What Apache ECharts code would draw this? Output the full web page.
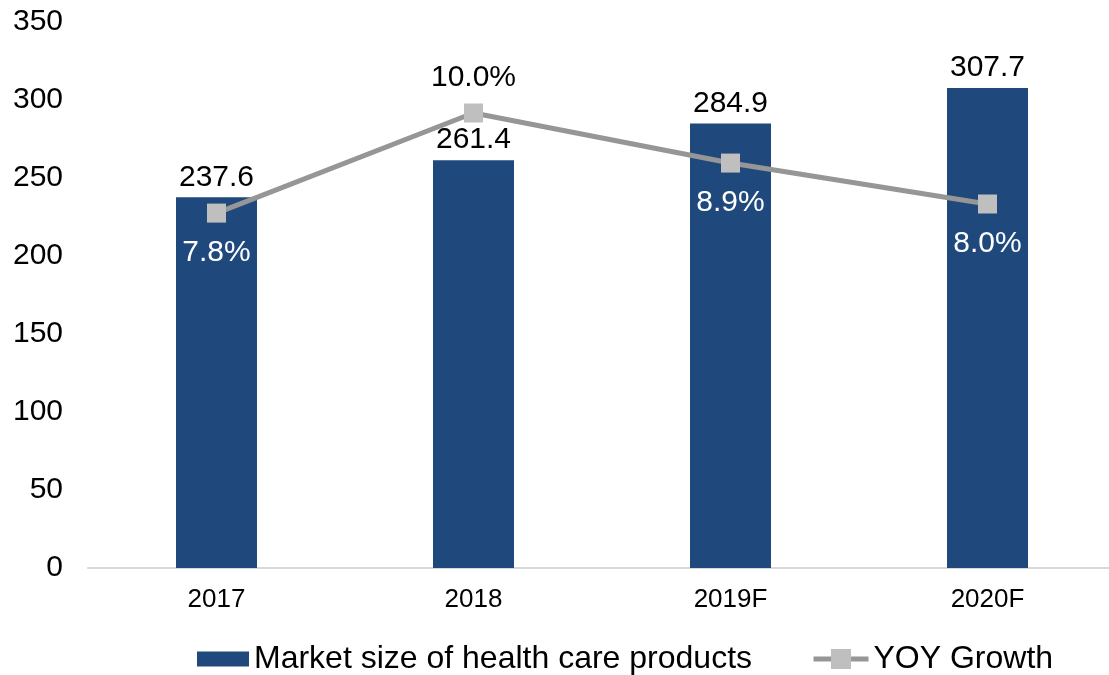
<!DOCTYPE html>
<html>
<head>
<meta charset="utf-8">
<script src="https://cdn.jsdelivr.net/npm/echarts@6/dist/echarts.min.js"></script>
<style>
  html, body { margin: 0; padding: 0; background: #fff; overflow: hidden; }
  #chart { width: 1116px; height: 675px; }
</style>
</head>
<body>
<div id="chart"></div>
<script>
// Market size of health care products (left axis) and year-on-year growth (%)
const categories = ['2017', '2018', '2019F', '2020F'];
const marketSize = [237.6, 261.4, 284.9, 307.7];
const yoyGrowth = [7.8, 10.0, 8.9, 8.0];
const sizeTicks = { min: 0, max: 350, interval: 50 };
const growthRange = { min: 0, max: 12 };

const FONT = '"Liberation Sans", Arial, sans-serif';
const BAR_COLOR = '#1f497d';
const LINE_COLOR = '#969696';
const MARKER_COLOR = '#bfbfbf';

// growth labels: the peak sits above its marker, the others sit inside the bars in white
const growthData = yoyGrowth.map((v) => {
  const above = v === Math.max(...yoyGrowth);
  return {
    value: v,
    label: {
      position: above ? 'top' : 'bottom',
      distance: above ? 11 : 15,
      color: above ? '#000' : '#fff'
    }
  };
});

const chart = echarts.init(document.getElementById('chart'), null, { renderer: 'canvas' });
chart.setOption({
  animation: false,
  textStyle: { fontFamily: FONT },
  grid: { left: 88, top: 22, right: 0, bottom: 107, containLabel: false },
  legend: [
    {
      data: [{ name: 'Market size of health care products', icon: 'rect' }],
      left: 197, top: 643, padding: 0,
      itemWidth: 52, itemHeight: 15,
      textStyle: { fontSize: 32, color: '#000', fontFamily: FONT, padding: [0, 0, 0, 0] }
    },
    {
      data: ['YOY Growth'],
      left: 811, top: 643, padding: 0,
      itemWidth: 55, itemHeight: 25,
      lineStyle: { width: 5, color: LINE_COLOR },
      textStyle: { fontSize: 32, color: '#000', fontFamily: FONT, padding: [0, 0, 0, 0] }
    }
  ],
  xAxis: {
    type: 'category',
    data: categories,
    axisLine: { show: true, lineStyle: { color: '#d9d9d9', width: 2 } },
    axisTick: { show: false },
    axisLabel: { fontSize: 26, color: '#000', margin: 19, fontFamily: FONT }
  },
  yAxis: [
    {
      type: 'value',
      min: sizeTicks.min, max: sizeTicks.max, interval: sizeTicks.interval,
      axisLine: { show: false },
      axisTick: { show: false },
      splitLine: { show: false },
      axisLabel: { fontSize: 30, color: '#000', margin: 25, fontFamily: FONT }
    },
    {
      type: 'value',
      min: growthRange.min, max: growthRange.max,
      show: false,
      splitLine: { show: false }
    }
  ],
  series: [
    {
      name: 'Market size of health care products',
      type: 'bar',
      data: marketSize,
      barWidth: 81,
      itemStyle: { color: BAR_COLOR },
      label: {
        show: true, position: 'top', distance: 5,
        fontSize: 30, color: '#000', fontFamily: FONT,
        formatter: p => p.value.toFixed(1)
      },
      z: 2
    },
    {
      name: 'YOY Growth',
      type: 'line',
      yAxisIndex: 1,
      data: growthData,
      symbol: 'rect',
      symbolSize: 19,
      lineStyle: { color: LINE_COLOR, width: 5 },
      itemStyle: { color: MARKER_COLOR, borderWidth: 0 },
      label: {
        show: true, fontSize: 30, fontFamily: FONT,
        formatter: p => p.value.toFixed(1) + '%'
      },
      z: 3
    }
  ]
});
</script>
</body>
</html>
